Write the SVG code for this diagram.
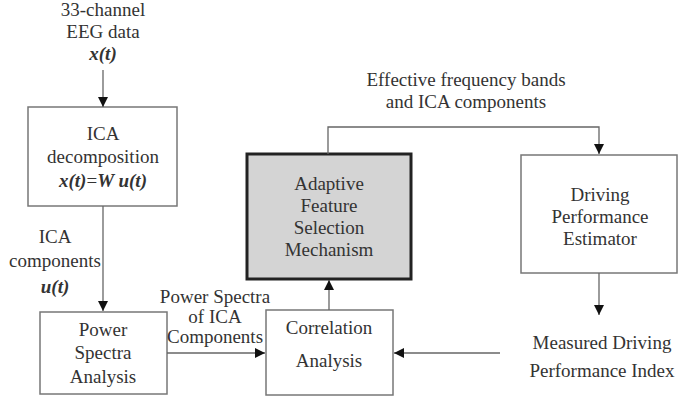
<svg xmlns="http://www.w3.org/2000/svg" width="678" height="402" viewBox="0 0 678 402" font-family="Liberation Serif, Tinos, DejaVu Serif, serif">
<defs>
<marker id="ah" viewBox="0 0 10 10" refX="10" refY="5" markerWidth="10" markerHeight="10" markerUnits="userSpaceOnUse" orient="auto">
<path d="M0,0 L10,5 L0,10 z" fill="#111"/>
</marker>
</defs>
<style>
text{font-family:'Liberation Serif',Tinos,'DejaVu Serif',serif;font-size:19px;fill:#333;text-anchor:middle}
.bi{font-weight:bold;font-style:italic}
.box{fill:#fff;stroke:#777;stroke-width:1.5}
.hl{fill:#d4d4d4;stroke:#222;stroke-width:3}
.c{fill:none;stroke:#666;stroke-width:1.3;marker-end:url(#ah)}
</style>
<rect width="678" height="402" fill="#fff"/>
<g id="input">
<text x="103" y="16">33-channel</text>
<text x="103" y="38">EEG data</text>
<text x="103" y="60" class="bi">x(t)</text>
</g>
<g id="ica">
<rect class="box" x="28" y="107" width="149" height="99"/>
<text x="103" y="140">ICA</text>
<text x="103" y="163">decomposition</text>
<text x="103" y="187"><tspan class="bi">x(t)</tspan>=<tspan class="bi">W u(t)</tspan></text>
</g>
<g id="psa">
<rect class="box" x="40" y="312" width="127" height="82"/>
<text x="103" y="336">Power</text>
<text x="103" y="359">Spectra</text>
<text x="103" y="383">Analysis</text>
</g>
<g id="corr">
<rect class="box" x="266" y="310" width="127" height="85"/>
<text x="329" y="334">Correlation</text>
<text x="329" y="367">Analysis</text>
</g>
<g id="afsm">
<rect class="hl" x="247" y="154" width="164" height="125"/>
<text x="329" y="190">Adaptive</text>
<text x="329" y="212">Feature</text>
<text x="329" y="234">Selection</text>
<text x="329" y="256">Mechanism</text>
</g>
<g id="dpe">
<rect class="box" x="521" y="155" width="156" height="118"/>
<text x="600" y="201">Driving</text>
<text x="600" y="223">Performance</text>
<text x="600" y="245">Estimator</text>
</g>
<g id="mdpi">
<text x="602" y="349">Measured Driving</text>
<text x="602" y="377">Performance Index</text>
</g>
<g id="connectors">
<path class="c" d="M103,70 L103,107"/>
<path class="c" d="M103,206 L103,311"/>
<path class="c" d="M167,353 L265,353"/>
<path class="c" d="M329,310 L329,280"/>
<path class="c" d="M328,154 L328,127 L599,127 L599,154"/>
<path class="c" d="M599,273 L599,315"/>
<path class="c" d="M500,353 L394,353"/>
<text x="55" y="243">ICA</text>
<text x="55" y="267">components</text>
<text x="55" y="293" class="bi">u(t)</text>
<text x="215" y="303">Power Spectra</text>
<text x="215" y="323">of ICA</text>
<text x="215" y="343">Components</text>
<text x="466" y="86">Effective frequency bands</text>
<text x="466" y="108">and ICA components</text>
</g>
</svg>
